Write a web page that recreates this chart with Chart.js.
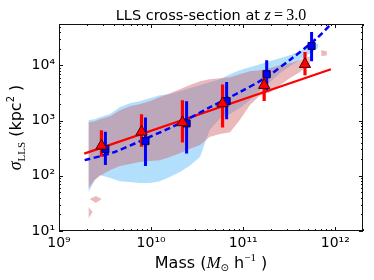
<!DOCTYPE html>
<html>
<head>
<meta charset="utf-8">
<script src="https://cdn.jsdelivr.net/npm/chart.js@4.4.0/dist/chart.umd.min.js"></script>
<style>
  html, body { margin: 0; padding: 0; background: #fff; }
</style>
</head>
<body>
<canvas id="chart" width="374" height="280"></canvas>
<script>
// axis ticks
const xTicks = [1e9, 1e10, 1e11, 1e12];
const yTicks = [1e1, 1e2, 1e3, 1e4];

// red triangles (median + spread)
const redMass  = [2.89e9, 7.87e9, 2.19e10, 5.97e10, 1.69e11, 4.69e11];
const redSigma = [349, 625, 925, 2040, 4370, 10470];
const redLow   = [221, 334, 402, 750, 2270, 6620];
const redHigh  = [670, 1306, 2340, 4500, 8150, 17460];

// blue squares
const blueMass  = [3.19e9, 8.69e9, 2.43e10, 6.61e10, 1.80e11, 5.53e11];
const blueSigma = [304, 424, 888, 2244, 6900, 22440];
const blueLow   = [156, 150, 254, 1059, 3550, 11860];
const blueHigh  = [625, 1138, 2244, 5010, 12360, 40180];

// fits
const redFitMass  = [1.88e9, 8.97e11];
const redFitSigma = [252, 8490];
const blueFitMass  = [1.9e9, 3.84e9, 8.97e9, 2.05e10, 4.35e10, 9.2e10, 1.81e11, 3.47e11, 6.32e11, 8.75e11];
const blueFitSigma = [192, 263, 479, 891, 1740, 3270, 6200, 13800, 31000, 53100];

// shaded scatter regions
const regionMass = [2.1e9, 2.44e9, 2.77e9, 3.6e9, 4.6e9, 5.9e9, 7.5e9, 9.7e9, 1.24e10, 1.6e10, 2.05e10, 2.6e10,
                    3.4e10, 4.3e10, 5.6e10, 7.2e10, 9.2e10, 1.18e11, 1.52e11, 1.95e11, 2.5e11, 3.2e11, 4.1e11, 5.3e11, 6.5e11];
const blueTop    = [1020, 1060, 1150, 1310, 1750, 2060, 2240, 2540, 2880, 3000, 3400, 3850,
                    4370, 4950, 5600, 6900, 8150, 9250, 10470, 11900, 13400, 15200, 18000, 22100, 25100];
const blueBottom = [51, 84, 103, 91, 80, 77, 74, 74, 80, 95, 117, 150,
                    218, 670, 1100, 1310, 1680, 2340, 3550, 4950, 7200, 9640, 12400, 16500, 20400];
const pinkMass   = regionMass.slice(0, 24);
const pinkTop    = [935, 975, 1060, 1200, 1540, 1820, 1980, 2240, 2650, 3130, 3700, 4370,
                    5160, 5600, 5840, 6100, 6900, 7820, 8150, 8870, 10000, 10900, 12400, 14600];
const pinkBottom = [60, 84, 99, 127, 150, 163, 177, 185, 192, 218, 257, 304,
                    359, 501, 568, 617, 1020, 1900, 2880, 3260, 4370, 5840, 7500, 10470];
const blobAMass = [2.16e9, 2.51e9, 2.91e9, 2.51e9];
const blobASigma = [38, 43, 38, 32];
const blobBMass = [2.1e9, 2.32e9, 2.1e9];
const blobBSigma = [27, 22, 17];
const blobCMass = [7.0e11, 8.1e11, 8.1e11, 7.1e11];
const blobCSigma = [18800, 18000, 15200, 14600];

const SUP = {'0':'⁰','1':'¹','2':'²','3':'³','4':'⁴','5':'⁵','6':'⁶','7':'⁷','8':'⁸','9':'⁹','-':'⁻'};
function powLabel(v) {
    const e = Math.round(Math.log10(v)).toString();
    return '10' + e.split('').map(c => SUP[c]).join('');
}

function points(mass, sigma) {
    return mass.map((m, i) => ({ x: m, y: sigma[i] }));
}

function band(mass, top, bottom) {
    const pts = points(mass, top);
    for (let i = mass.length - 1; i >= 0; i--) pts.push({ x: mass[i], y: bottom[i] });
    return pts;
}

function errBars(mass, low, high) {
    const pts = [];
    mass.forEach((m, i) => {
        pts.push({ x: m, y: low[i] }, { x: m, y: high[i] }, { x: m, y: null });
    });
    return pts;
}

const BLUE_FILL = 'rgba(135, 206, 250, 0.65)';
const PINK_FILL = 'rgba(205, 92, 100, 0.43)';

function region(data, color, order) {
    return { data: data, fill: 'shape', backgroundColor: color, borderWidth: 0,
             pointRadius: 0, tension: 0, order: order };
}

// inward ticks on all four sides + frame
const frame = {
    id: 'frame',
    afterDatasetsDraw(chart) {
        const { ctx, chartArea: a, scales } = chart;
        ctx.save();
        ctx.strokeStyle = '#111';
        ctx.lineWidth = 1;
        ctx.beginPath();
        const xs = scales.x, ys = scales.y;
        for (let d = 1e9; d <= 1e12; d *= 10) {
            for (let k = 1; k <= 9; k++) {
                const v = k * d;
                if (v < xs.min || v > xs.max) continue;
                const px = Math.round(xs.getPixelForValue(v)) + 0.5;
                const len = k === 1 ? 4 : 2;
                ctx.moveTo(px, a.bottom); ctx.lineTo(px, a.bottom - len);
                ctx.moveTo(px, a.top); ctx.lineTo(px, a.top + len);
            }
        }
        for (let d = 10; d <= 1e4; d *= 10) {
            for (let k = 1; k <= 9; k++) {
                const v = k * d;
                if (v < ys.min || v > ys.max) continue;
                const py = Math.round(ys.getPixelForValue(v)) + 0.5;
                const len = k === 1 ? 4 : 2;
                ctx.moveTo(a.left, py); ctx.lineTo(a.left + len, py);
                ctx.moveTo(a.right, py); ctx.lineTo(a.right - len, py);
            }
        }
        ctx.stroke();
        ctx.strokeRect(a.left + 0.5, a.top + 0.5, a.right - a.left - 1, a.bottom - a.top - 1);
        ctx.restore();
    }
};

function drawRuns(ctx, runs, x, y) {
    let w = 0;
    runs.forEach(r => { ctx.font = r.font; w += ctx.measureText(r.text).width; });
    let cx = x - w / 2;
    runs.forEach(r => {
        ctx.font = r.font;
        ctx.fillText(r.text, cx, y + (r.dy || 0));
        cx += ctx.measureText(r.text).width;
    });
}

const labels = {
    id: 'labels',
    afterDraw(chart) {
        const { ctx, chartArea: a } = chart;
        const mid = (a.left + a.right) / 2;
        ctx.save();
        ctx.fillStyle = '#000';
        ctx.textBaseline = 'alphabetic';
        ctx.textAlign = 'left';
        drawRuns(ctx, [
            { text: 'LLS cross-section at ', font: '14.5px "DejaVu Sans"' },
            { text: 'z', font: 'italic 16px "Liberation Serif"' },
            { text: '\u2009=\u20093.0', font: '16px "Liberation Serif"' }
        ], mid, 20);
        drawRuns(ctx, [
            { text: 'Mass (', font: '16px "DejaVu Sans"' },
            { text: 'M', font: 'italic 17px "Liberation Serif"' },
            { text: '⊙', font: '10px "DejaVu Sans"', dy: 3 },
            { text: ' h', font: '16px "DejaVu Sans"' },
            { text: '−1', font: '11px "Liberation Serif"', dy: -7 },
            { text: ' )', font: '16px "DejaVu Sans"' }
        ], mid, 268);
        ctx.translate(21, (a.top + a.bottom) / 2);
        ctx.rotate(-Math.PI / 2);
        drawRuns(ctx, [
            { text: 'σ', font: 'italic 18px "Liberation Serif"' },
            { text: 'LLS', font: '11px "Liberation Serif"', dy: 4 },
            { text: ' (kpc', font: '16px "DejaVu Sans"' },
            { text: '2', font: '10px "DejaVu Sans"', dy: -7 },
            { text: ' )', font: '16px "DejaVu Sans"' }
        ], 0, 0);
        ctx.restore();
    }
};

Chart.defaults.font.family = '"DejaVu Sans"';
Chart.defaults.color = '#000';

new Chart(document.getElementById('chart').getContext('2d'), {
    type: 'line',
    data: {
        datasets: [
            region(band(regionMass, blueTop, blueBottom), BLUE_FILL, 20),
            region(band(pinkMass, pinkTop, pinkBottom), PINK_FILL, 19),
            region(points(blobAMass, blobASigma), PINK_FILL, 19),
            region(points(blobBMass, blobBSigma), PINK_FILL, 19),
            region(points(blobCMass, blobCSigma), PINK_FILL, 19),
            {
                data: points(redFitMass, redFitSigma),
                borderColor: '#ff0000', borderWidth: 2.2, pointRadius: 0, fill: false, order: 15
            },
            {
                data: points(blueFitMass, blueFitSigma),
                borderColor: '#0000ff', borderWidth: 2.5, borderDash: [6, 3.5], pointRadius: 0,
                tension: 0.3, fill: false, order: 14
            },
            {
                data: errBars(blueMass, blueLow, blueHigh),
                borderColor: '#0000ff', borderWidth: 3, pointRadius: 0, fill: false, order: 13
            },
            {
                data: errBars(redMass, redLow, redHigh),
                borderColor: '#ff0000', borderWidth: 3.2, borderCapStyle: 'butt',
                pointRadius: 0, fill: false, order: 12
            },
            {
                data: points(blueMass, blueSigma),
                showLine: false, pointStyle: 'rect', pointRadius: 5,
                backgroundColor: '#0000ff', borderColor: '#000050', borderWidth: 1, order: 11
            },
            {
                data: points(redMass, redSigma),
                showLine: false, pointStyle: 'triangle', pointRadius: 6.5,
                backgroundColor: '#ff0000', borderColor: '#500000', borderWidth: 1, order: 10
            }
        ]
    },
    options: {
        responsive: false,
        animation: false,
        events: [],
        devicePixelRatio: 1,
        layout: { padding: { top: 24, right: 11, left: 0, bottom: 0 } },
        plugins: {
            legend: { display: false },
            tooltip: { enabled: false },
            filler: { drawTime: 'beforeDatasetsDraw' }
        },
        scales: {
            x: {
                type: 'logarithmic',
                min: 1e9,
                max: 2e12,
                grid: { display: false, drawTicks: false },
                border: { display: false },
                afterBuildTicks: s => { s.ticks = xTicks.map(v => ({ value: v })); },
                afterFit: s => { s.height = 49; },
                ticks: {
                    font: { size: 14 }, padding: 4, maxRotation: 0, autoSkip: false,
                    callback: v => powLabel(v)
                }
            },
            y: {
                type: 'logarithmic',
                min: 10,
                max: 5.6e4,
                grid: { display: false, drawTicks: false },
                border: { display: false },
                afterBuildTicks: s => { s.ticks = yTicks.map(v => ({ value: v })); },
                afterFit: s => { s.width = 59; },
                ticks: {
                    font: { size: 14 }, padding: 4, autoSkip: false,
                    callback: v => powLabel(v)
                }
            }
        }
    },
    plugins: [frame, labels]
});
</script>
</body>
</html>
